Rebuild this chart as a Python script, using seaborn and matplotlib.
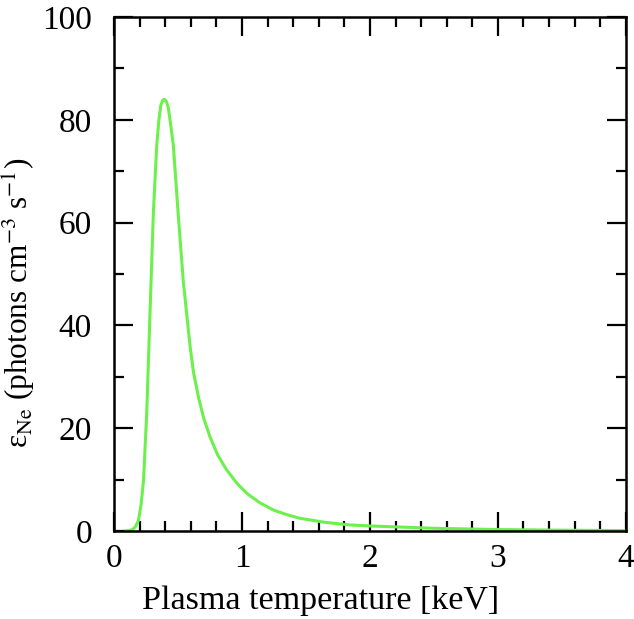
import numpy as np
import pandas as pd
import matplotlib
matplotlib.use('Agg')
import matplotlib.pyplot as plt
import seaborn as sns
from matplotlib.ticker import MultipleLocator

# values
temperature = [0.086, 0.12, 0.15, 0.17, 0.19, 0.21, 0.23, 0.255, 0.28, 0.307,
               0.333, 0.35, 0.365, 0.38, 0.393, 0.41, 0.424, 0.44, 0.463, 0.50,
               0.54, 0.594, 0.62, 0.659, 0.70, 0.75, 0.81, 0.88, 0.96, 1.04,
               1.14, 1.245, 1.35, 1.45, 1.65, 1.84, 2.0, 2.5, 3.0, 3.5, 4.0]
emissivity = [0.0, 0.1, 0.4, 1.0, 2.1, 5.0, 9.9, 23.0, 42.0, 62.0,
              75.0, 80.0, 82.8, 83.8, 84.0, 83.5, 82.3, 79.5, 75.0, 62.0,
              48.8, 35.9, 31.0, 26.1, 22.0, 18.3, 14.8, 11.9, 9.3, 7.3,
              5.5, 4.1, 3.2, 2.5, 1.7, 1.2, 1.0, 0.55, 0.3, 0.18, 0.1]

df = pd.DataFrame({'T': temperature, 'eps': emissivity})

sns.set_style('ticks')
plt.rcParams['font.family'] = ['Liberation Serif', 'DejaVu Serif']
plt.rcParams['mathtext.fontset'] = 'stix'
plt.rcParams['text.color'] = 'black'
plt.rcParams['axes.labelcolor'] = 'black'

fig = plt.figure(figsize=(6.34, 6.19), dpi=100)
ax = fig.add_axes([0.18, 0.142, 0.807, 0.8305])

sns.lineplot(data=df, x='T', y='eps', ax=ax, color='#6CF04C', lw=2.2)

ax.set_xlim(0, 4)
ax.set_ylim(0, 100)
ax.xaxis.set_major_locator(MultipleLocator(1))
ax.xaxis.set_minor_locator(MultipleLocator(0.2))
ax.yaxis.set_major_locator(MultipleLocator(20))
ax.yaxis.set_minor_locator(MultipleLocator(10))
ax.tick_params(which='both', direction='in', top=True, right=True, width=1.6,
               labelsize=24, color='black', labelcolor='black')
ax.tick_params(which='major', length=14)
ax.tick_params(which='minor', length=7)
ax.tick_params(axis='y', which='major', pad=16)
ax.tick_params(axis='x', which='major', pad=9)
for s in ax.spines.values():
    s.set_linewidth(1.8)
    s.set_color('black')

ax.set_xlabel('Plasma temperature [keV]', fontsize=24.5)
ax.set_ylabel(r'ε$_{\rm Ne}$ (photons cm$^{-3}$ s$^{-1}$)', fontsize=22.5)
ax.xaxis.set_label_coords(0.404, -0.105)
ax.yaxis.set_label_coords(-0.148, 0.445)

fig.savefig('out.png', dpi=100)
